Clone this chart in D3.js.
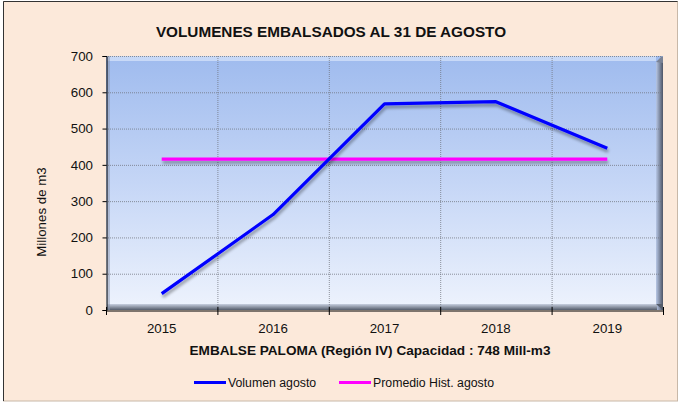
<!DOCTYPE html>
<html><head><meta charset="utf-8">
<script src="https://cdn.jsdelivr.net/npm/d3@7/dist/d3.min.js"></script>
<style>
html,body{margin:0;padding:0;background:#fff;}
svg{display:block;font-family:Arial,"Liberation Sans",sans-serif;}
</style></head>
<body>
<svg id="c" width="681" height="403"></svg>
<script>
const years = ["2015","2016","2017","2018","2019"];
const volumen = [45, 263, 568, 574, 446];
const promedio = [416, 416, 416, 416, 416];
const yTicks = [0,100,200,300,400,500,600,700];
const titleText = "VOLUMENES EMBALSADOS AL 31 DE AGOSTO";
const xTitle = "EMBALSE PALOMA (Región IV) Capacidad : 748 Mill-m3";
const yTitle = "Millones de m3";
const seriesNames = ["Volumen agosto","Promedio Hist. agosto"];
const seriesColors = ["#0000FF","#FF00FF"];

const svg = d3.select("#c");
const W=681,H=403;
const L=106,R=663,T=56,B=310;

const defs = svg.append("defs");
const g1 = defs.append("linearGradient").attr("id","pg").attr("x1",0).attr("y1",0).attr("x2",0).attr("y2",1);
g1.append("stop").attr("offset","0").attr("stop-color","#9fbbee");
g1.append("stop").attr("offset","0.5").attr("stop-color","#c5d6f6");
g1.append("stop").attr("offset","1").attr("stop-color","#eef3fd");
const gr = defs.append("linearGradient").attr("id","rs").attr("x1",0).attr("y1",0).attr("x2",1).attr("y2",0);
gr.append("stop").attr("offset","0").attr("stop-color","#b7c7e6");
gr.append("stop").attr("offset","1").attr("stop-color","#4d5566");
const gb = defs.append("linearGradient").attr("id","bs").attr("x1",0).attr("y1",0).attr("x2",0).attr("y2",1);
gb.append("stop").attr("offset","0").attr("stop-color","#c8d0e0");
gb.append("stop").attr("offset","1").attr("stop-color","#555d6b");
const f = defs.append("filter").attr("id","sh").attr("filterUnits","userSpaceOnUse")
  .attr("x",0).attr("y",0).attr("width",W).attr("height",H);
f.append("feGaussianBlur").attr("in","SourceAlpha").attr("stdDeviation",1.6).attr("result","b");
f.append("feOffset").attr("in","b").attr("dx",1).attr("dy",3).attr("result","o");
f.append("feComponentTransfer").attr("in","o").attr("result","o2").append("feFuncA").attr("type","linear").attr("slope",0.35);
const m = f.append("feMerge"); m.append("feMergeNode").attr("in","o2"); m.append("feMergeNode").attr("in","SourceGraphic");

// background frame
svg.append("rect").attr("x",0).attr("y",0).attr("width",W).attr("height",H).attr("fill","#ffffff");
svg.append("rect").attr("x",3.5).attr("y",1.5).attr("width",674).attr("height",399.5)
  .attr("fill","#fce9da").attr("stroke","#c8b8a8").attr("stroke-width",1);
svg.append("path").attr("d","M3.5,401 V1.5 H677.5").attr("fill","none").attr("stroke","#333").attr("stroke-width",1);

const x = d3.scaleBand().domain(years).range([L,R]).padding(0);
const y = d3.scaleLinear().domain([0,700]).range([B,T]);

// plot area
svg.append("rect").attr("x",L).attr("y",T).attr("width",R-L).attr("height",B-T).attr("fill","url(#pg)");
svg.append("rect").attr("x",R-7).attr("y",T+6).attr("width",7).attr("height",B-T-6).attr("fill","url(#rs)");
svg.append("rect").attr("x",L+1).attr("y",B-6).attr("width",R-L-7).attr("height",6).attr("fill","url(#bs)");
svg.append("path").attr("d",`M${R-7},${B-6} L${R},${B} L${R},${B-6} Z`).attr("fill","#555d6b");
svg.append("rect").attr("x",L+1).attr("y",T).attr("width",R-L-8).attr("height",5).attr("fill","#d8e6fb").attr("opacity",0.7);
svg.append("path").attr("d",`M${R-7},${T+6} L${R-1},${T} L${R},${T+1} L${R},${T+7}Z`).attr("fill","#7a8396");
svg.append("rect").attr("x",L+1).attr("y",T).attr("width",3).attr("height",B-T).attr("fill","#8a96b0").attr("opacity",0.5);

// gridlines
const grid = svg.append("g");
yTicks.filter(v=>v>0).forEach(v=>{
  grid.append("line").attr("x1",L).attr("x2",R-2).attr("y1",y(v)+0.5).attr("y2",y(v)+0.5)
    .attr("stroke","#6d717a").attr("stroke-width",1).attr("stroke-dasharray","1,1").attr("opacity",0.75);
});
years.slice(1).forEach(c=>{
  grid.append("line").attr("x1",x(c)+0.5).attr("x2",x(c)+0.5).attr("y1",T).attr("y2",B)
    .attr("stroke","#6d717a").attr("stroke-width",1).attr("stroke-dasharray","1,1").attr("opacity",0.75);
});

// axes
const yAxis = d3.axisLeft(y).tickValues(yTicks).tickSize(4).tickPadding(9.5);
const ya = svg.append("g").attr("transform",`translate(${L+0.5},0)`).call(yAxis);
ya.select(".domain").attr("stroke","#000");
ya.selectAll(".tick line").attr("stroke","#000");
ya.selectAll("text").attr("font-size","13.3px").attr("fill","#111").attr("font-family","Arial,'Liberation Sans',sans-serif");

const xAxis = d3.axisBottom(x).tickSize(0).tickPadding(13);
const xa = svg.append("g").attr("transform",`translate(0,${B+0.5})`).call(xAxis);
xa.select(".domain").attr("stroke","#000");
xa.selectAll("text").attr("font-size","13.3px").attr("fill","#111").attr("font-family","Arial,'Liberation Sans',sans-serif");
const bounds = years.map(c=>x(c)).concat([R]);
bounds.forEach(bx=>{
  svg.append("line").attr("x1",bx+0.5).attr("x2",bx+0.5).attr("y1",B-3).attr("y2",B+5).attr("stroke","#000");
});

// lines
const line = d3.line().x((d,i)=>x(years[i])+x.bandwidth()/2).y(d=>y(d));
svg.append("path").datum(promedio).attr("d",line).attr("fill","none").attr("stroke",seriesColors[1])
  .attr("stroke-width",3.2).attr("filter","url(#sh)");
svg.append("path").datum(volumen).attr("d",line).attr("fill","none").attr("stroke",seriesColors[0])
  .attr("stroke-width",3.2).attr("stroke-linejoin","round").attr("filter","url(#sh)");

// titles
svg.append("text").attr("x",331).attr("y",37).attr("text-anchor","middle")
  .attr("font-size","15.3px").attr("font-weight","bold").attr("fill","#111").text(titleText);
svg.append("text").attr("x",370).attr("y",355).attr("text-anchor","middle")
  .attr("font-size","13.6px").attr("font-weight","bold").attr("fill","#111").text(xTitle);
svg.append("text").attr("transform","translate(46,212) rotate(-90)").attr("text-anchor","middle")
  .attr("font-size","13.3px").attr("fill","#111").text(yTitle);

// legend
const leg = [[194,226,228],[339,371,373]];
seriesNames.forEach((n,i)=>{
  svg.append("line").attr("x1",leg[i][0]).attr("x2",leg[i][1]).attr("y1",382.5).attr("y2",382.5)
    .attr("stroke",seriesColors[i]).attr("stroke-width",3);
  svg.append("text").attr("x",leg[i][2]).attr("y",386.8).attr("font-size","12.3px").attr("fill","#111").text(n);
});
</script>
</body></html>
